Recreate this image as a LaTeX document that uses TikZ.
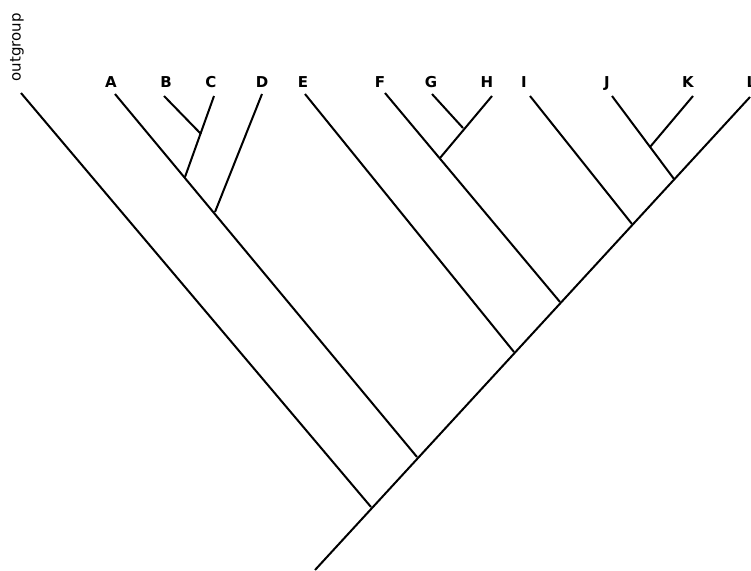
\documentclass[tikz,border=0pt]{standalone}
\usepackage{fontspec}
\setmainfont{DejaVu Sans}
\begin{document}
\begin{tikzpicture}[x=1pt,y=-1pt,
  branch/.style={line width=2pt,black},
  taxon/.style={font=\bfseries\fontsize{15}{17}\selectfont,anchor=base,inner sep=0pt}]
\useasboundingbox (0,0) rectangle (751,570);
% spine coordinates
\coordinate (root) at (315,570);
\coordinate (n1) at (371,507);
\coordinate (n2) at (417,457);
\coordinate (n3) at (514,352);
\coordinate (n4) at (560,302);
\coordinate (n5) at (632,224);
\coordinate (n6) at (674,179);
\coordinate (nBC) at (185,177);
\coordinate (nBC2) at (201,134);
\coordinate (nD) at (215,212);
\coordinate (nGH) at (440,158);
\coordinate (nGH2) at (463,128);
\coordinate (nJK) at (650,147);
% tips
\coordinate (tO) at (21,93);
\coordinate (tA) at (115,94);
\coordinate (tB) at (164,96);
\coordinate (tC) at (214,96);
\coordinate (tD) at (262,94);
\coordinate (tE) at (305,94);
\coordinate (tF) at (385,93);
\coordinate (tG) at (432,94);
\coordinate (tH) at (492,96);
\coordinate (tI) at (530,96);
\coordinate (tJ) at (612,96);
\coordinate (tK) at (693,96);
\coordinate (tL) at (750,97);
% labels
\node[font=\fontsize{15}{17}\selectfont,rotate=90,inner sep=0pt] (lO) at (17,47.5) {outgroup};
\node[taxon] (lA) at (111,87) {A};
\node[taxon] (lB) at (166,87) {B};
\node[taxon] (lC) at (211,87) {C};
\node[taxon] (lD) at (262,87) {D};
\node[taxon] (lE) at (303,87) {E};
\node[taxon] (lF) at (380,87) {F};
\node[taxon] (lG) at (431,87) {G};
\node[taxon] (lH) at (487,87) {H};
\node[taxon] (lI) at (524,87) {I};
\node[taxon] (lJ) at (607,87) {J};
\node[taxon] (lK) at (688,87) {K};
\node[taxon,anchor=base west] (lL) at (746.5,87) {L};
% branches
\draw[branch] (root) -- (tL);
\draw[branch] (n1) -- (tO);
\draw[branch] (n2) -- (tA);
\draw[branch] (nBC2) -- (tB);
\draw[branch] (nBC) -- (tC);
\draw[branch] (nD) -- (tD);
\draw[branch] (n3) -- (tE);
\draw[branch] (n4) -- (tF);
\draw[branch] (nGH2) -- (tG);
\draw[branch] (nGH) -- (tH);
\draw[branch] (n5) -- (tI);
\draw[branch] (n6) -- (tJ);
\draw[branch] (nJK) -- (tK);
\end{tikzpicture}
\end{document}
